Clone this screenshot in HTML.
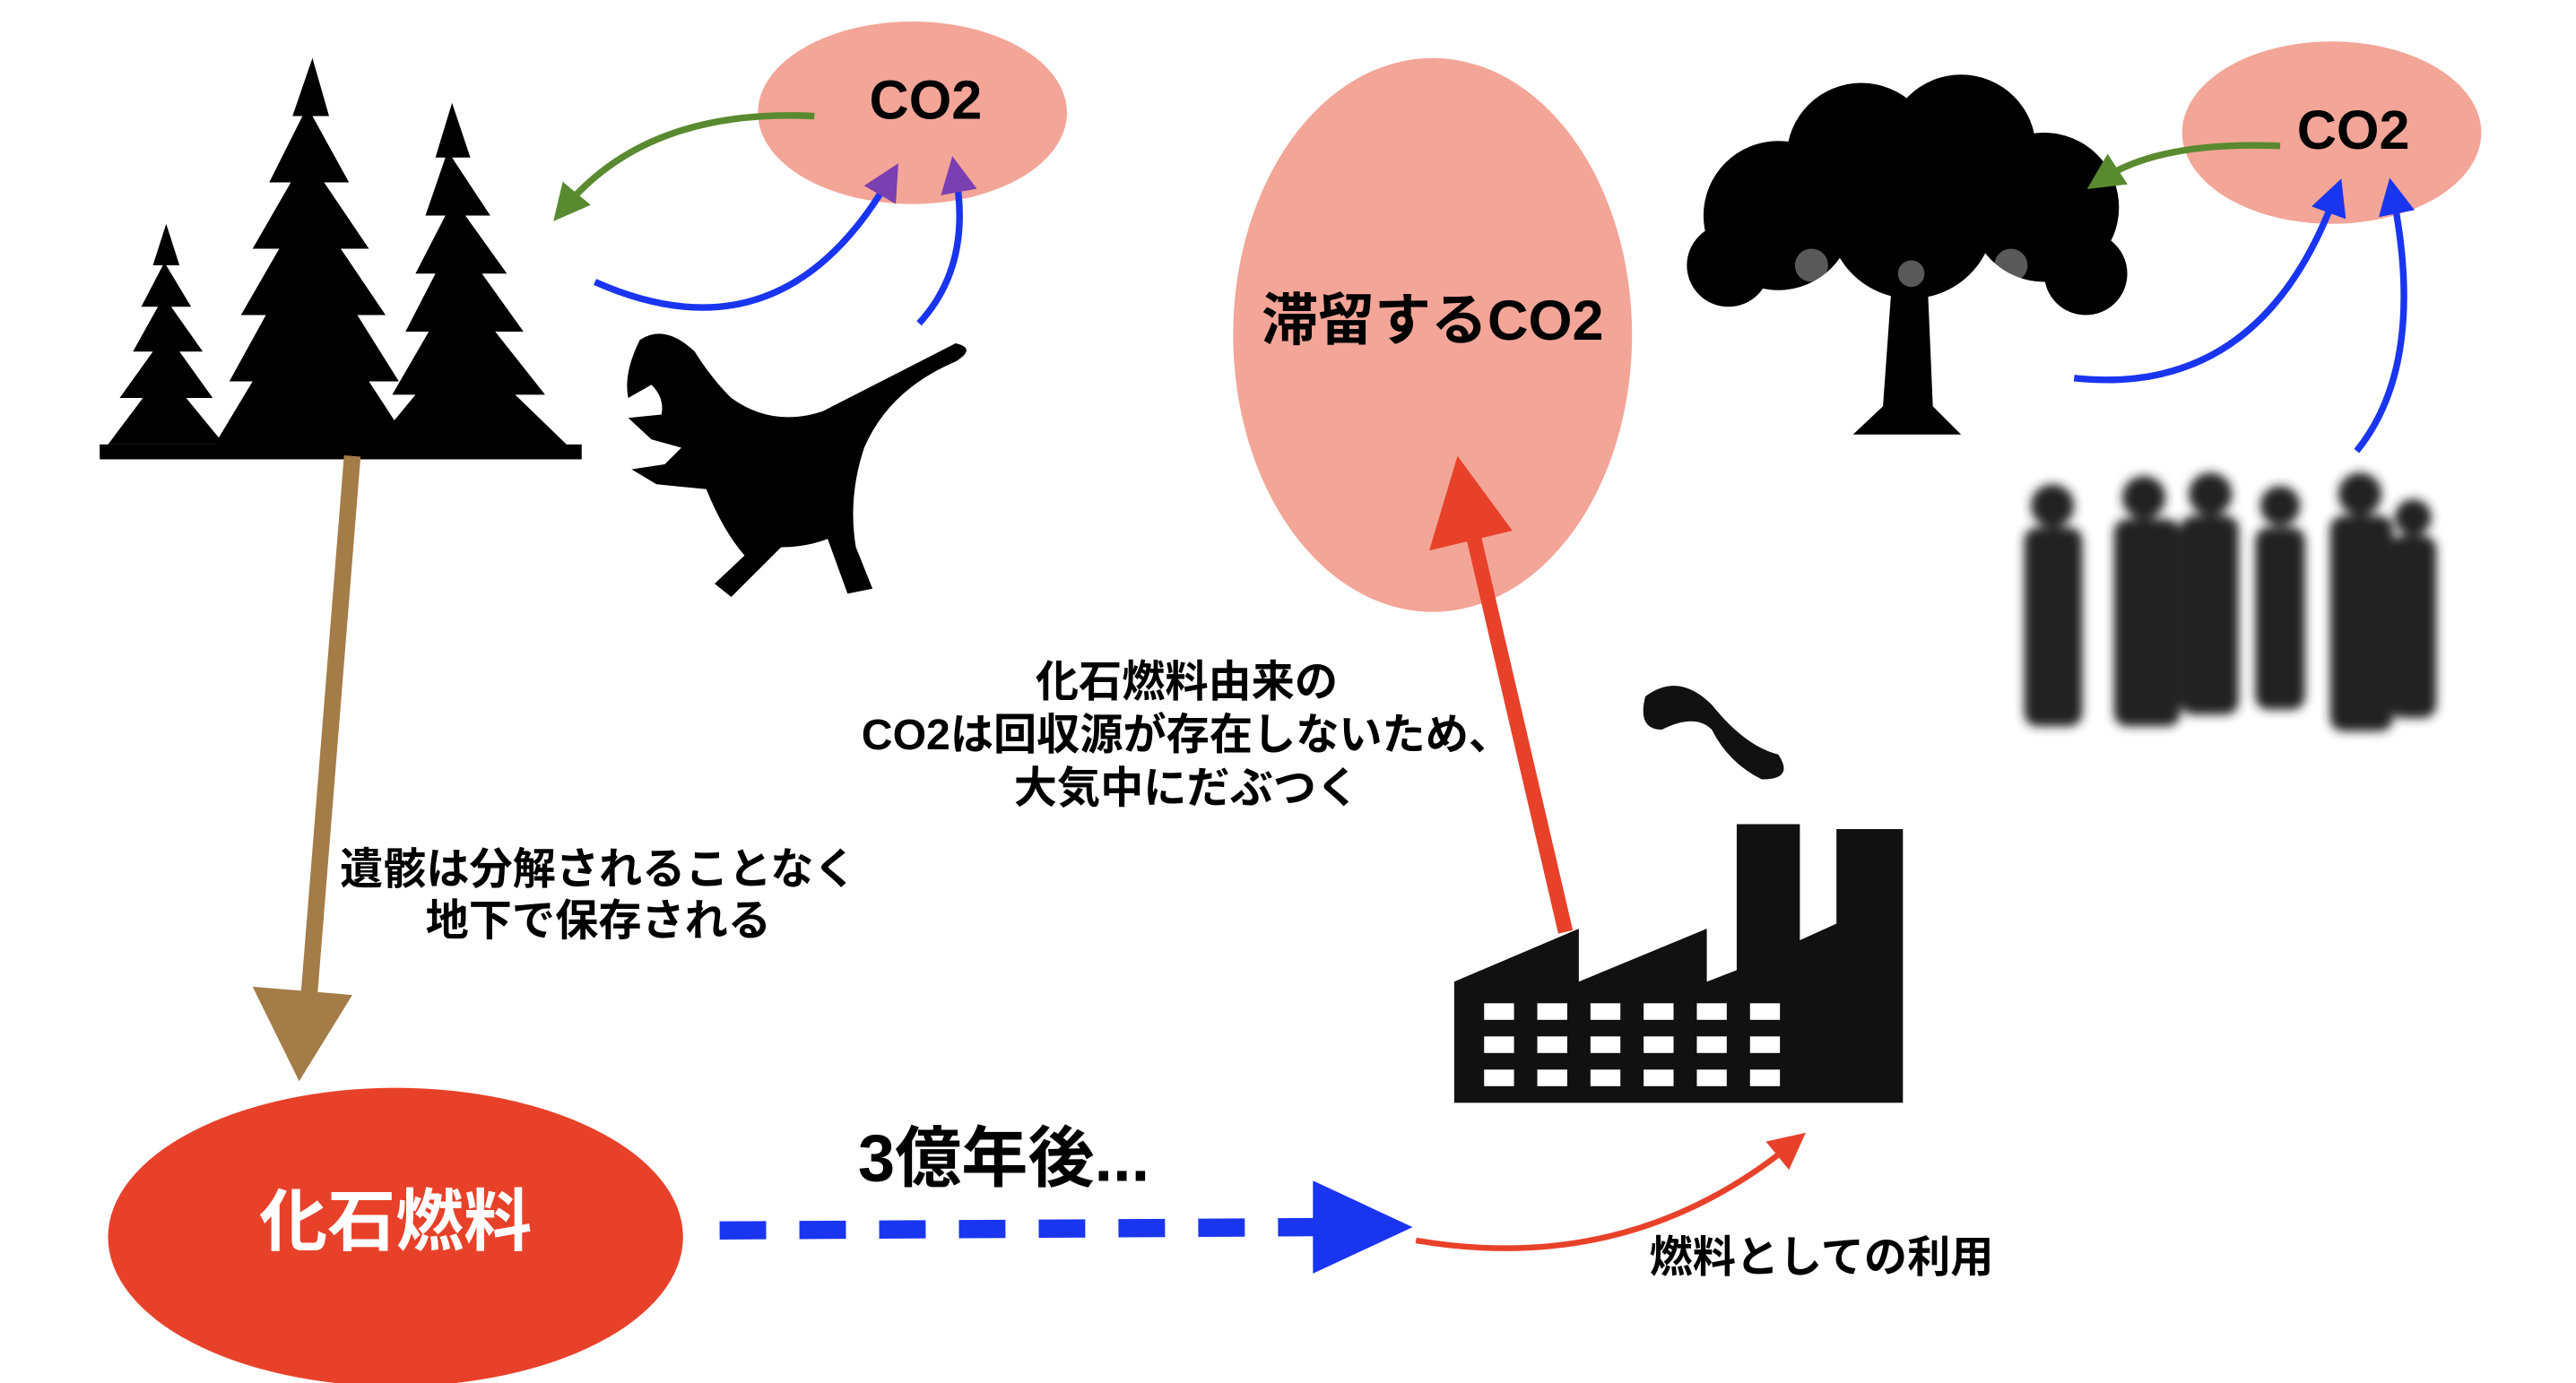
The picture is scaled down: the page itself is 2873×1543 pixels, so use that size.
<!DOCTYPE html>
<html><head><meta charset="utf-8"><style>
html,body{margin:0;padding:0;background:#fff;}
svg{display:block;}
text{font-family:"Liberation Sans","Noto Sans CJK JP",sans-serif;}
</style></head><body>
<svg width="2873" height="1543" viewBox="0 0 1550 834" preserveAspectRatio="none" xmlns="http://www.w3.org/2000/svg">
<defs>
<marker id="ab" markerWidth="22" markerHeight="22" refX="11" refY="11" orient="auto" markerUnits="userSpaceOnUse" viewBox="0 0 22 22"><path d="M0,0 L22,11 L0,22 z" fill="#1a35ef"/></marker>
<marker id="ap" markerWidth="22" markerHeight="22" refX="11" refY="11" orient="auto" markerUnits="userSpaceOnUse" viewBox="0 0 22 22"><path d="M0,0 L22,11 L0,22 z" fill="#7a3fb0"/></marker>
<marker id="agr" markerWidth="22" markerHeight="22" refX="11" refY="11" orient="auto" markerUnits="userSpaceOnUse" viewBox="0 0 22 22"><path d="M0,0 L22,11 L0,22 z" fill="#5a8a30"/></marker>
<marker id="ar" markerWidth="22" markerHeight="22" refX="11" refY="11" orient="auto" markerUnits="userSpaceOnUse" viewBox="0 0 22 22"><path d="M0,0 L22,11 L0,22 z" fill="#e8412a"/></marker>
<filter id="bl"><feGaussianBlur stdDeviation="3"/></filter>
</defs>

<ellipse cx="549" cy="68" rx="93" ry="55" fill="#f3a597"/>
<text x="557" y="63" font-size="33" font-weight="bold" text-anchor="middle" dominant-baseline="middle">CO2</text>
<ellipse cx="862" cy="202" rx="120" ry="167" fill="#f3a597"/>
<text x="862" y="196" font-size="34" font-weight="bold" text-anchor="middle" dominant-baseline="middle">滞留するCO2</text>
<ellipse cx="1403" cy="80" rx="90" ry="55" fill="#f3a597"/>
<text x="1416" y="81" font-size="33" font-weight="bold" text-anchor="middle" dominant-baseline="middle">CO2</text>
<ellipse cx="238" cy="746" rx="173" ry="90" fill="#e8412a"/>
<text x="238" y="740" font-size="41" font-weight="bold" fill="#fff" text-anchor="middle" dominant-baseline="middle">化石燃料</text>

<!-- conifer trees -->
<g fill="#000">
<polygon points="100,135 108,160 100,160 115,185 103,185 122,212 108,212 128,240 112,240 135,268 65,268 86,240 72,240 92,212 80,212 95,185 85,185 98,160 92,160"/>
<polygon points="188,35 198,70 188,70 210,110 195,110 222,150 205,150 232,190 215,190 240,230 222,230 248,270 128,270 152,230 138,230 160,190 145,190 168,150 152,150 175,110 162,110 182,70 176,70"/>
<polygon points="272,62 283,95 272,95 295,130 280,130 305,165 290,165 315,200 298,200 328,238 310,238 345,272 222,272 250,238 236,238 258,200 244,200 262,165 250,165 268,130 256,130 268,95 262,95"/>
<rect x="60" y="268" width="290" height="9"/>
</g>
<!-- dinosaur -->
<g fill="#000">
<path d="M385,205 Q400,195 418,212 Q428,228 440,240 Q465,258 495,248 Q540,225 575,207 Q588,210 575,218 Q535,235 520,270 Q510,300 515,330 L525,355 L510,358 L498,325 Q485,330 470,330 L455,345 L440,360 L430,352 L448,335 Q435,320 425,295 L395,292 L380,283 L400,280 L410,270 L392,265 L378,252 L398,250 Q400,240 392,232 L378,240 Q375,225 385,205 z"/>
</g>
<!-- right tree -->
<g fill="#000">
<circle cx="1070" cy="130" r="45"/><circle cx="1120" cy="95" r="45"/><circle cx="1180" cy="90" r="45"/><circle cx="1230" cy="125" r="45"/><circle cx="1150" cy="130" r="50"/>
<circle cx="1040" cy="160" r="25"/><circle cx="1255" cy="165" r="25"/>
<path d="M1138,175 L1160,175 L1163,245 L1180,262 L1115,262 L1133,245 z"/>
</g>
<g fill="#fff" opacity="0.35">
<circle cx="1090" cy="160" r="10"/><circle cx="1210" cy="160" r="10"/><circle cx="1150" cy="165" r="8"/>
</g>
<!-- people -->
<g fill="#222" filter="url(#bl)">
<circle cx="1235" cy="305" r="13"/><rect x="1218" y="318" width="35" height="120" rx="8"/>
<circle cx="1290" cy="300" r="13"/><rect x="1272" y="313" width="40" height="125" rx="8"/>
<circle cx="1330" cy="298" r="13"/><rect x="1312" y="311" width="35" height="120" rx="8"/>
<circle cx="1372" cy="305" r="12"/><rect x="1357" y="318" width="30" height="110" rx="8"/>
<circle cx="1420" cy="298" r="13"/><rect x="1402" y="311" width="38" height="130" rx="8"/>
<circle cx="1452" cy="312" r="11"/><rect x="1438" y="323" width="28" height="110" rx="8"/>
</g>
<!-- factory -->
<g fill="#111">
<polygon points="875,665 875,592 950,560 950,592 1027,560 1027,592 1045,585 1045,497 1083,497 1083,567 1105,557 1105,500 1145,500 1145,665"/>
<path d="M990,420 Q1010,405 1030,425 Q1050,450 1070,455 Q1080,470 1060,470 Q1040,460 1030,440 Q1020,430 1000,440 Q985,440 990,420 z"/>
</g>
<g fill="#fff">
<rect x="893" y="605" width="18" height="10"/><rect x="925" y="605" width="18" height="10"/><rect x="957" y="605" width="18" height="10"/><rect x="989" y="605" width="18" height="10"/><rect x="1021" y="605" width="18" height="10"/><rect x="1053" y="605" width="18" height="10"/>
<rect x="893" y="625" width="18" height="10"/><rect x="925" y="625" width="18" height="10"/><rect x="957" y="625" width="18" height="10"/><rect x="989" y="625" width="18" height="10"/><rect x="1021" y="625" width="18" height="10"/><rect x="1053" y="625" width="18" height="10"/>
<rect x="893" y="645" width="18" height="10"/><rect x="925" y="645" width="18" height="10"/><rect x="957" y="645" width="18" height="10"/><rect x="989" y="645" width="18" height="10"/><rect x="1021" y="645" width="18" height="10"/><rect x="1053" y="645" width="18" height="10"/>
</g>

<line x1="212" y1="275" x2="186" y2="600" stroke="#a47c48" stroke-width="10"/>
<polygon points="152,595 212,600 180,652" fill="#a47c48"/>

<line x1="942" y1="562" x2="887" y2="325" stroke="#e8412a" stroke-width="9"/>
<polygon points="860,332 910,320 877,275" fill="#e8412a"/>

<line x1="433" y1="742" x2="792" y2="740" stroke="#1a35ef" stroke-width="11" stroke-dasharray="28,20"/>
<polygon points="790,712 850,740 790,768" fill="#1a35ef"/>

<path d="M852,748 Q980,770 1078,690" fill="none" stroke="#e8412a" stroke-width="3.5" marker-end="url(#ar)"/>

<path d="M490,70 Q390,65 340,125" fill="none" stroke="#5a8a30" stroke-width="4" marker-end="url(#agr)"/>
<path d="M1372,88 Q1300,85 1265,108" fill="none" stroke="#5a8a30" stroke-width="4" marker-end="url(#agr)"/>
<path d="M358,170 Q470,220 535,108" fill="none" stroke="#1a35ef" stroke-width="4" marker-end="url(#ap)"/>
<path d="M553,195 Q585,160 575,105" fill="none" stroke="#1a35ef" stroke-width="4" marker-end="url(#ap)"/>
<path d="M1248,228 Q1360,240 1405,118" fill="none" stroke="#1a35ef" stroke-width="4" marker-end="url(#ab)"/>
<path d="M1418,272 Q1460,220 1440,118" fill="none" stroke="#1a35ef" stroke-width="4" marker-end="url(#ab)"/>

<g font-size="26" font-weight="bold" text-anchor="middle">
<text x="360" y="533">遺骸は分解されることなく</text>
<text x="360" y="564">地下で保存される</text>
<text x="714" y="420">化石燃料由来の</text>
<text x="714" y="452">CO2は回収源が存在しないため、</text>
<text x="714" y="484">大気中にだぶつく</text>
<text x="1096" y="767">燃料としての利用</text>
</g>
<text x="604" y="712" font-size="40" font-weight="bold" text-anchor="middle">3億年後...</text>
</svg>
</body></html>
